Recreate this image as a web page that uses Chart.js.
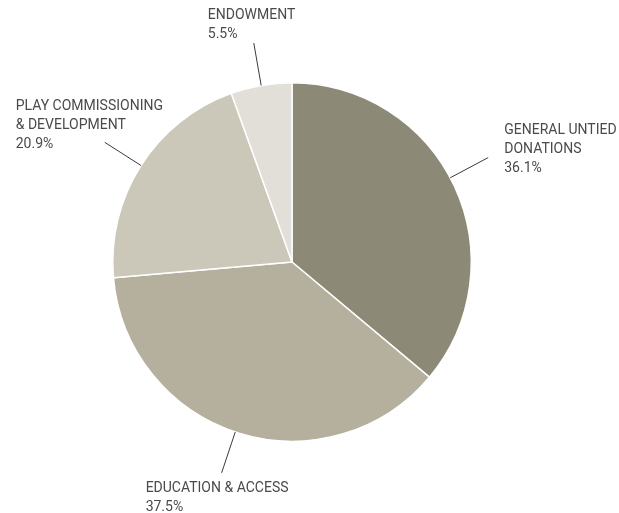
<!DOCTYPE html>
<html>
<head>
<meta charset="utf-8">
<script src="https://cdn.jsdelivr.net/npm/chart.js@4.4.0/dist/chart.umd.min.js"></script>
<style>
    html, body { margin: 0; padding: 0; background: #ffffff; }
    canvas { display: block; }
</style>
</head>
<body>
<canvas id="pie" width="619" height="513"></canvas>
<script>
// Data
const categories = ['GENERAL UNTIED DONATIONS', 'EDUCATION & ACCESS', 'PLAY COMMISSIONING & DEVELOPMENT', 'ENDOWMENT'];
const shares = [36.1, 37.5, 20.9, 5.5];
const labelLines = [
    ['GENERAL UNTIED', 'DONATIONS'],
    ['EDUCATION & ACCESS'],
    ['PLAY COMMISSIONING', '& DEVELOPMENT'],
    ['ENDOWMENT']
];
const sliceColors = ['#8c8a77', '#b5b09d', '#cbc8ba', '#e2dfd8'];

// text block placement relative to the outer end of the leader line,
// plus a small nudge of the leader angle (degrees)
const labelOffsets = [
    { dx: 16, dy: -27, nudge: -3 },
    { dx: -76, dy: 16, nudge: 1 },
    { dx: -89, dy: -36, nudge: 0 },
    { dx: -46, dy: -28, nudge: 0 }
];

const leaderLabels = {
    id: 'leaderLabels',
    afterDatasetsDraw(chart) {
        const ctx = chart.ctx;
        const meta = chart.getDatasetMeta(0);
        ctx.save();
        ctx.font = '14px Roboto, "Liberation Sans", sans-serif';
        ctx.fillStyle = '#4a4a4a';
        ctx.strokeStyle = '#3a3a3a';
        ctx.lineWidth = 1;
        ctx.textBaseline = 'middle';
        ctx.textAlign = 'left';
        meta.data.forEach((arc, i) => {
            const { x, y, startAngle, endAngle, outerRadius } = arc.getProps(['x', 'y', 'startAngle', 'endAngle', 'outerRadius'], true);
            const mid = (startAngle + endAngle) / 2 + labelOffsets[i].nudge * Math.PI / 180;
            const x1 = x + Math.cos(mid) * outerRadius;
            const y1 = y + Math.sin(mid) * outerRadius;
            const x2 = x + Math.cos(mid) * (outerRadius + 43);
            const y2 = y + Math.sin(mid) * (outerRadius + 43);
            ctx.beginPath();
            ctx.moveTo(x1, y1);
            ctx.lineTo(x2, y2);
            ctx.stroke();

            const lines = labelLines[i].concat([shares[i].toFixed(1) + '%']);
            const tx = x2 + labelOffsets[i].dx;
            let ty = y2 + labelOffsets[i].dy;
            lines.forEach(line => {
                ctx.fillText(line, tx, ty);
                ty += 19;
            });
        });
        ctx.restore();
    }
};

new Chart(document.getElementById('pie'), {
    type: 'pie',
    data: {
        labels: categories,
        datasets: [{
            data: shares,
            backgroundColor: sliceColors,
            borderColor: '#ffffff',
            borderWidth: 1.5
        }]
    },
    options: {
        responsive: false,
        animation: false,
        layout: {
            padding: { top: 82, bottom: 71, left: 112, right: 147 }
        },
        plugins: {
            legend: { display: false },
            tooltip: { enabled: false }
        }
    },
    plugins: [leaderLabels]
});
</script>
</body>
</html>
